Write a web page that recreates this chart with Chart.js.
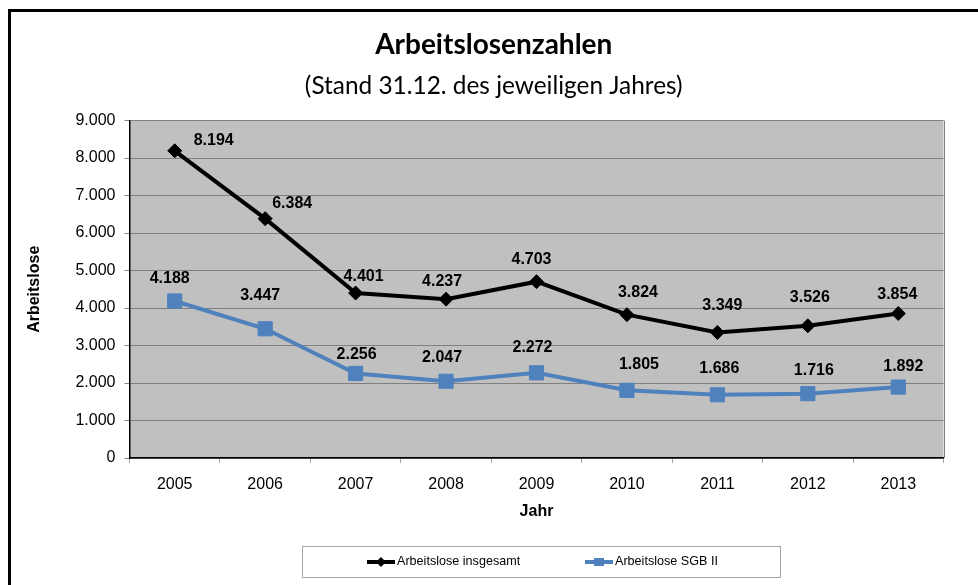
<!DOCTYPE html>
<html lang="de">
<head>
<meta charset="utf-8">
<title>Arbeitslosenzahlen</title>
<script src="https://cdn.jsdelivr.net/npm/chart.js@4.4.0/dist/chart.umd.min.js"></script>
<style>
  html, body { margin: 0; padding: 0; background: #fff; }
</style>
</head>
<body>
<canvas id="arbeitsloseChart" width="978" height="585"></canvas>
<script>
// Daten (Stand 31.12. des jeweiligen Jahres)
const years = ['2005', '2006', '2007', '2008', '2009', '2010', '2011', '2012', '2013'];
const arbeitsloseGesamt = [8194, 6384, 4401, 4237, 4703, 3824, 3349, 3526, 3854];
const arbeitsloseSgb2 = [4188, 3447, 2256, 2047, 2272, 1805, 1686, 1716, 1892];
const yTickValues = [0, 1000, 2000, 3000, 4000, 5000, 6000, 7000, 8000, 9000];

// label offsets (dx, dy) from the point, like Excel placed them
const gesamtLabelOffsets = [[39, -10], [27, -15], [8, -16], [-4, -18], [-5, -22], [11, -22], [5, -27], [2, -28], [-1, -19]];
const sgb2LabelOffsets = [[-5, -22], [-5, -33], [1, -19], [-4, -24], [-4, -25], [12, -26], [2, -26], [6, -23], [5, -20]];

function formatDe(n) {
  return String(n).replace(/\B(?=(\d{3})+(?!\d))/g, '.');
}

Chart.defaults.font.family = '"Liberation Sans", Arial, sans-serif';
Chart.defaults.color = '#000';

// white page, black frame and grey plot area
const background = {
  id: 'background',
  beforeDraw(chart) {
    const ctx = chart.ctx;
    const a = chart.chartArea;
    ctx.save();
    ctx.fillStyle = '#fff';
    ctx.fillRect(0, 0, chart.width, chart.height);
    ctx.fillStyle = '#000';
    ctx.fillRect(8, 9, 3, chart.height);
    ctx.fillRect(8, 9, chart.width, 3);
    ctx.fillStyle = '#c0c0c0';
    ctx.fillRect(a.left, a.top, a.right - a.left, a.bottom - a.top);
    ctx.strokeStyle = '#808080';
    ctx.lineWidth = 1;
    ctx.beginPath();
    ctx.moveTo(Math.round(a.right) + 0.5, a.top);
    ctx.lineTo(Math.round(a.right) + 0.5, a.bottom);
    ctx.stroke();
    ctx.restore();
  }
};

// value labels above the points
const valueLabels = {
  id: 'valueLabels',
  afterDatasetsDraw(chart) {
    const ctx = chart.ctx;
    ctx.save();
    ctx.font = 'bold 16px "Liberation Sans", Arial, sans-serif';
    ctx.fillStyle = '#000';
    ctx.textAlign = 'center';
    ctx.textBaseline = 'middle';
    chart.data.datasets.forEach((ds, i) => {
      const meta = chart.getDatasetMeta(i);
      meta.data.forEach((pt, j) => {
        const off = ds.labelOffsets[j];
        ctx.fillText(formatDe(ds.data[j]), pt.x + off[0], pt.y + off[1]);
      });
    });
    ctx.restore();
  }
};

// framed legend at the bottom
const legendBox = {
  id: 'legendBox',
  afterDraw(chart) {
    const ctx = chart.ctx;
    ctx.save();
    ctx.strokeStyle = '#a6a6a6';
    ctx.lineWidth = 1;
    ctx.strokeRect(302.5, 546.5, 478, 31);
    const starts = [367, 585];
    const y = 562;
    chart.data.datasets.forEach((ds, i) => {
      const x = starts[i];
      ctx.strokeStyle = ds.borderColor;
      ctx.fillStyle = ds.borderColor;
      ctx.lineWidth = 4;
      ctx.beginPath();
      ctx.moveTo(x, y);
      ctx.lineTo(x + 28, y);
      ctx.stroke();
      ctx.beginPath();
      if (ds.pointStyle === 'rectRot') {
        ctx.moveTo(x + 14, y - 5);
        ctx.lineTo(x + 19, y);
        ctx.lineTo(x + 14, y + 5);
        ctx.lineTo(x + 9, y);
        ctx.closePath();
      } else {
        ctx.rect(x + 9, y - 4, 10, 8);
      }
      ctx.fill();
      ctx.fillStyle = '#000';
      ctx.font = '12.6px "Liberation Sans", Arial, sans-serif';
      ctx.textAlign = 'left';
      ctx.textBaseline = 'middle';
      ctx.fillText(ds.label, x + 30, y);
    });
    ctx.restore();
  }
};

const ctx = document.getElementById('arbeitsloseChart').getContext('2d');
new Chart(ctx, {
  type: 'line',
  data: {
    labels: years,
    datasets: [
      {
        label: 'Arbeitslose insgesamt',
        data: arbeitsloseGesamt,
        labelOffsets: gesamtLabelOffsets,
        borderColor: '#000000',
        backgroundColor: '#000000',
        borderWidth: 4,
        tension: 0,
        pointStyle: 'rectRot',
        pointRadius: 7,
        pointBorderWidth: 1,
        pointHoverRadius: 7
      },
      {
        label: 'Arbeitslose SGB II',
        data: arbeitsloseSgb2,
        labelOffsets: sgb2LabelOffsets,
        borderColor: '#4f81bd',
        backgroundColor: '#4f81bd',
        borderWidth: 4,
        tension: 0,
        pointStyle: 'rect',
        pointRadius: 10,
        pointBorderWidth: 1,
        pointHoverRadius: 10
      }
    ]
  },
  options: {
    responsive: false,
    animation: false,
    layout: {
      padding: { left: 44, right: 34.5, top: 12, bottom: 55 }
    },
    plugins: {
      legend: { display: false },
      tooltip: { enabled: false },
      title: {
        display: true,
        text: 'Arbeitslosenzahlen',
        color: '#000',
        font: { family: 'Lato, sans-serif', size: 28, weight: 'bold', lineHeight: 1.2 },
        padding: { top: 16, bottom: 0 }
      },
      subtitle: {
        display: true,
        text: '(Stand 31.12. des jeweiligen Jahres)',
        color: '#000',
        font: { family: 'Lato, sans-serif', size: 24.4, weight: 'normal', lineHeight: 1.2 },
        padding: { top: 10, bottom: 19.7 }
      }
    },
    scales: {
      x: {
        offset: true,
        grid: {
          drawOnChartArea: false,
          drawTicks: true,
          tickLength: 5,
          color: '#a6a6a6',
          offset: true
        },
        border: { color: '#000', width: 1.5 },
        ticks: {
          font: { size: 16 },
          padding: 12,
          maxRotation: 0
        },
        title: {
          display: true,
          text: 'Jahr',
          font: { size: 16, weight: 'bold' },
          padding: { top: 0, bottom: 9 }
        },
        afterFit(scale) { scale.height = 72; }
      },
      y: {
        min: 0,
        max: 9000,
        grid: {
          color: '#808080',
          drawTicks: true,
          tickLength: 5
        },
        border: { color: '#000', width: 1.5 },
        ticks: {
          font: { size: 16 },
          padding: 9,
          callback: value => formatDe(value)
        },
        afterBuildTicks(scale) {
          scale.ticks = yTickValues.map(v => ({ value: v }));
        },
        title: {
          display: true,
          text: 'Arbeitslose',
          font: { size: 16, weight: 'bold' },
          padding: { top: -19, bottom: 0 }
        },
        afterFit(scale) { scale.width = 85.5; }
      }
    }
  },
  plugins: [background, valueLabels, legendBox]
});
</script>
</body>
</html>
